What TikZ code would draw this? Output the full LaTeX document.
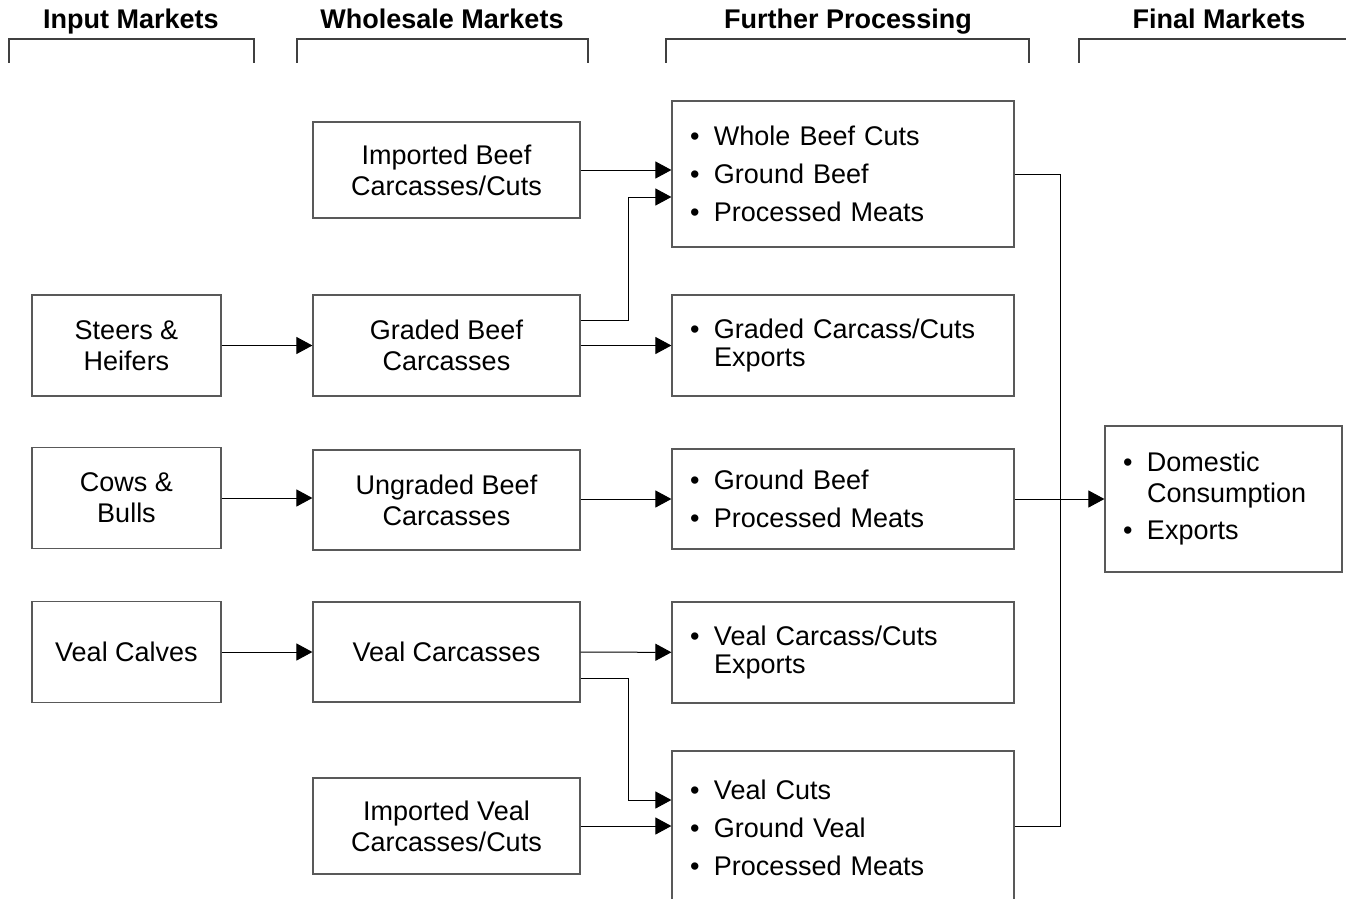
\documentclass[tikz,border=0pt]{standalone}
\usepackage{fontspec}
\setmainfont{Liberation Sans}
\usetikzlibrary{arrows.meta,positioning,calc}

\newcommand{\bul}{\makebox[24pt][l]{\textbullet}}
\newcommand{\ind}{\hspace*{24pt}}

\begin{document}
\begin{tikzpicture}[
    x=1pt, y=-1pt,
    font=\fontsize{27}{31}\selectfont,
    head/.style={anchor=base, font=\fontsize{27}{31}\selectfont\bfseries},
    brace/.style={draw=black!75, line width=1.2pt},
    box/.style={draw=black!65, line width=1.2pt, align=center, inner sep=0pt},
    srcbox/.style={box, minimum width=189pt, minimum height=101pt},
    whbox/.style={box, minimum width=267pt, minimum height=100pt},
    listbox/.style={box, text width=306pt, inner xsep=18pt, align=left},
    conn/.style={draw=black, line width=1pt},
    arr/.style={conn, -{Triangle[length=16pt, width=17pt]}}
  ]
  \useasboundingbox (0,0) rectangle (1346,899);

  % column heads
  \node[head] (hin) at (131,29) {Input Markets};
  \node[head] (hwh) at (442,29) {Wholesale Markets};
  \node[head] (hfp) at (848,29) {Further Processing};
  \node[head] (hfn) at (1219,29) {Final Markets};
  \draw[brace] (9,63) |- (254,39) -- (254,63);
  \draw[brace] (297,63) |- (588,39) -- (588,63);
  \draw[brace] (666,63) |- (1029,39) -- (1029,63);
  \draw[brace] (1079,63) |- (1346,39);

  % input markets
  \node[srcbox] (steers) at (126.5,345.5) {Steers \&\\Heifers};
  \node[srcbox] (cows) at (126.5,498) {Cows \&\\Bulls};
  \node[srcbox] (calves) at (126.5,652) {Veal Calves};

  % wholesale markets
  \node[whbox, minimum height=96pt] (ibeef) at (446.5,170) {Imported Beef\\Carcasses/Cuts};
  \node[whbox, minimum height=101pt] (graded) at (446.5,345.5) {Graded Beef\\Carcasses};
  \node[whbox] (ungraded) at (446.5,500) {Ungraded Beef\\Carcasses};
  \node[whbox] (vealcar) at (446.5,652) {Veal Carcasses};
  \node[whbox, minimum height=96pt] (iveal) at (446.5,826) {Imported Veal\\Carcasses/Cuts};

  % further processing
  \node[listbox, minimum height=146pt] (beefcuts) at (843,174)
    {\bul Whole Beef Cuts\\[7pt]\bul Ground Beef\\[7pt]\bul Processed Meats};
  \node[listbox, minimum height=101pt] (gradedexp) at (843,345.5)
    {\bul Graded Carcass/Cuts\\[-3pt]\ind Exports};
  \node[listbox, minimum height=100pt] (groundbeef) at (843,499)
    {\bul Ground Beef\\[7pt]\bul Processed Meats};
  \node[listbox, minimum height=101pt] (vealexp) at (843,652.5)
    {\bul Veal Carcass/Cuts\\[-3pt]\ind Exports};
  \node[listbox, minimum height=154pt] (vealcuts) at (843,828)
    {\bul Veal Cuts\\[7pt]\bul Ground Veal\\[7pt]\bul Processed Meats};

  % final markets
  \node[listbox, text width=201pt, minimum height=146pt] (final) at (1223.5,499)
    {\bul Domestic\\\ind Consumption\\[6pt]\bul Exports};

  \draw[arr] (steers) -- (graded);
  \draw[arr] (cows.east) -- (cows.east -| ungraded.west);
  \draw[arr] (calves) -- (vealcar);

  \draw[arr] (ibeef.east) -- (ibeef.east -| beefcuts.west);
  \draw[arr] ($(graded.east)+(0,-25)$) -- ++(48,0) |- ($(beefcuts.west)+(0,23)$);
  \draw[arr] (graded) -- (gradedexp);
  \draw[arr] (ungraded.east |- groundbeef.west) -- (groundbeef.west);
  \draw[arr] (vealcar) -- (vealexp);
  \draw[arr] ($(vealcar.east)+(0,26)$) -- ++(48,0) |- ($(vealcuts.west)+(0,-28)$);
  \draw[arr] (iveal.east) -- (iveal.east -| vealcuts.west);

  \coordinate (bus) at (1060,499);
  \draw[conn] (beefcuts.east) -| (bus) |- (vealcuts.east |- iveal.east);
  \draw[arr] (groundbeef) -- (final);
\end{tikzpicture}
\end{document}
